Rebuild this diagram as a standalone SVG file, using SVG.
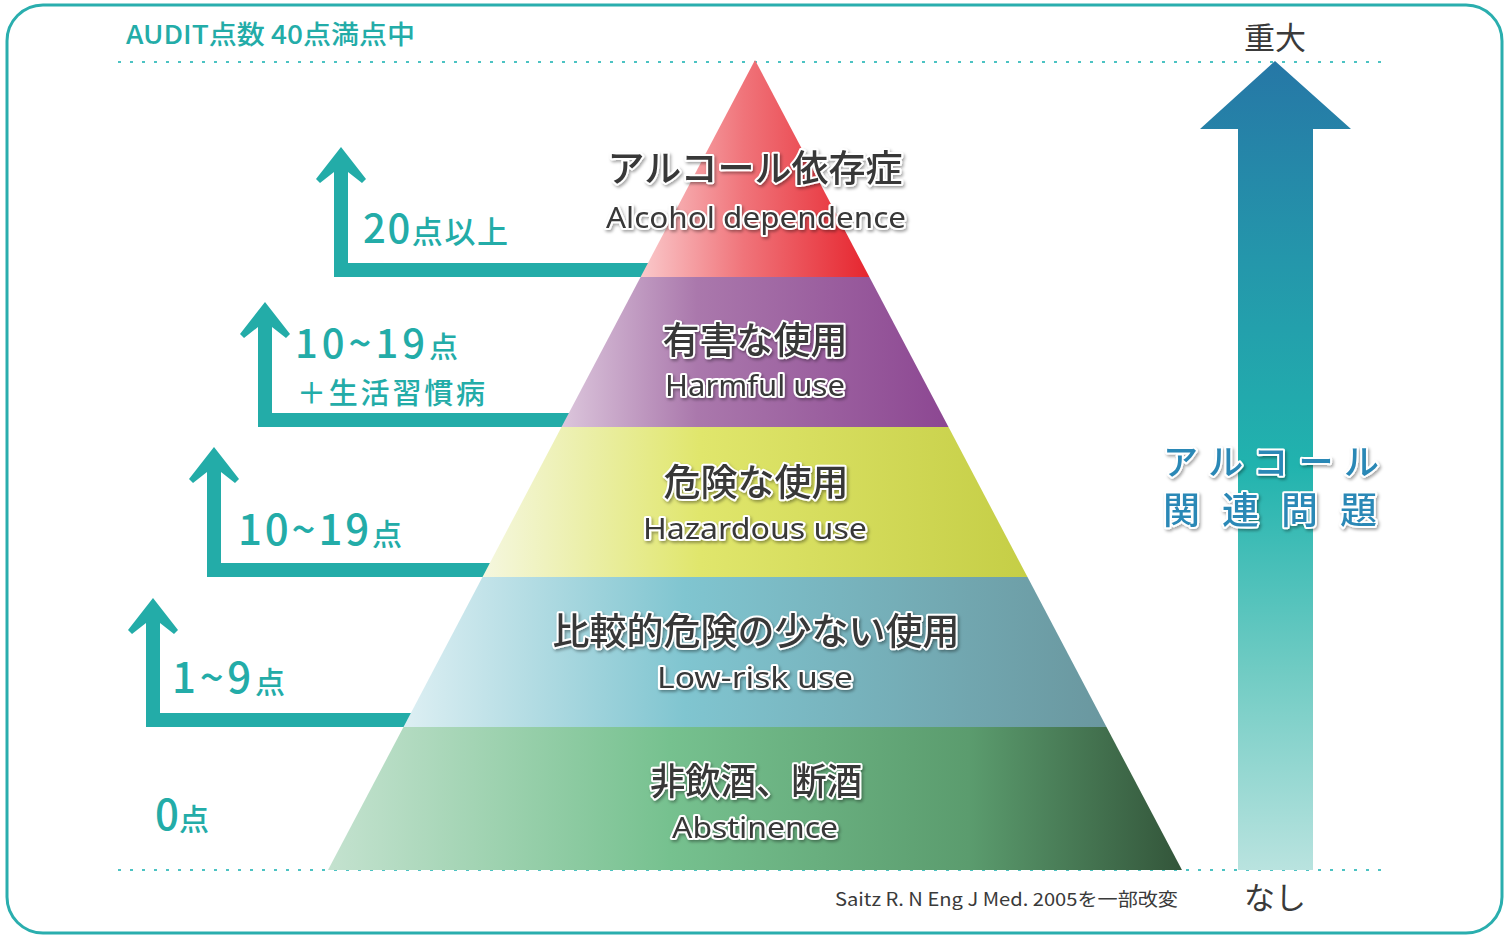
<svg xmlns="http://www.w3.org/2000/svg" width="1511" height="936" viewBox="0 0 1511 936">
<defs>
<style>
.teal{fill:#23aca8;font-family:"Noto Sans CJK JP","Noto Sans",sans-serif;font-weight:500}
.jp{fill:#383838;font-family:"Noto Sans CJK JP",sans-serif;font-weight:500;font-size:37px;text-anchor:middle;stroke:#fff;stroke-width:4;paint-order:stroke;stroke-linejoin:round;filter:url(#sh)}
.en{fill:#383838;font-family:"Noto Sans","Noto Sans CJK JP",sans-serif;font-size:29px;text-anchor:middle;stroke:#fff;stroke-width:4;paint-order:stroke;stroke-linejoin:round;filter:url(#sh)}
.blue{fill:#2b88b6;font-family:"Noto Sans CJK JP",sans-serif;font-weight:500;stroke:#fff;stroke-width:4;paint-order:stroke;stroke-linejoin:round;filter:url(#sh)}
.dark{fill:#3a3a3a;font-family:"Noto Sans CJK JP",sans-serif}
.dot{stroke:#4cc3c3;stroke-width:2;stroke-dasharray:3 9;fill:none}
.arrow{fill:#23aca8}
</style>
<filter id="sh" x="-10%" y="-30%" width="120%" height="160%">
<feDropShadow dx="1.5" dy="2" stdDeviation="1.8" flood-color="#000" flood-opacity="0.35"/>
</filter>
<linearGradient id="gRed" x1="0" y1="0" x2="1" y2="0">
<stop offset="0" stop-color="#fac9cb"/><stop offset="0.45" stop-color="#f0747a"/><stop offset="1" stop-color="#e6262f"/>
</linearGradient>
<linearGradient id="gPur" x1="0" y1="0" x2="1" y2="0">
<stop offset="0" stop-color="#dcc6dc"/><stop offset="0.35" stop-color="#aa78ac"/><stop offset="1" stop-color="#8c4792"/>
</linearGradient>
<linearGradient id="gYel" x1="0" y1="0" x2="1" y2="0">
<stop offset="0" stop-color="#f5f7df"/><stop offset="0.4" stop-color="#e0e66c"/><stop offset="1" stop-color="#c5ce46"/>
</linearGradient>
<linearGradient id="gBlu" x1="0" y1="0" x2="1" y2="0">
<stop offset="0" stop-color="#ddeff3"/><stop offset="0.4" stop-color="#80c5d0"/><stop offset="1" stop-color="#6a979f"/>
</linearGradient>
<linearGradient id="gGrn" x1="0" y1="0" x2="1" y2="0">
<stop offset="0" stop-color="#c4e2cf"/><stop offset="0.4" stop-color="#76c18f"/><stop offset="0.75" stop-color="#5b9c6e"/><stop offset="1" stop-color="#33553a"/>
</linearGradient>
<linearGradient id="gArr" gradientUnits="userSpaceOnUse" x1="0" y1="61" x2="0" y2="870">
<stop offset="0" stop-color="#2677a6"/><stop offset="0.25" stop-color="#2497ab"/><stop offset="0.5" stop-color="#21b3ae"/><stop offset="0.75" stop-color="#6fcbc3"/><stop offset="1" stop-color="#b9e3df"/>
</linearGradient>
</defs>

<rect x="7" y="5" width="1495" height="928" rx="36" ry="36" fill="#fff" stroke="#2aaeae" stroke-width="3"/>

<g id="guides">
<line class="dot" x1="118" y1="62" x2="1386" y2="62"/>
<line class="dot" x1="118" y1="870" x2="1386" y2="870"/>
</g>

<g id="connectors">
<polygon class="arrow" points="341,147 366,179 362,183 348,172 348,263 680,263 680,277 334,277 334,172 320,183 316,179"/>
<polygon class="arrow" points="265,302 290,334 286,338 272,327 272,413 600,413 600,427 258,427 258,327 244,338 240,334"/>
<polygon class="arrow" points="214,447 239,479 235,483 221,472 221,563 520,563 520,577 207,577 207,472 193,483 189,479"/>
<polygon class="arrow" points="153,598 178,630 174,634 160,623 160,713 440,713 440,727 146,727 146,623 132,634 128,630"/>
</g>

<g id="severity-arrow">
<polygon points="1275,61 1351,129 1313,129 1313,870 1238,870 1238,129 1200,129" fill="url(#gArr)"/>
</g>

<g id="level-dependence">
<polygon points="755,60 869.4,277 640.6,277" fill="url(#gRed)"/>
<text class="jp" x="755" y="182" font-size="36">アルコール依存症</text>
<text class="en" x="756" y="228" textLength="300" lengthAdjust="spacingAndGlyphs">Alcohol dependence</text>
</g>
<g id="level-harmful">
<polygon points="640.6,277 869.4,277 948.5,427 561.5,427" fill="url(#gPur)"/>
<text class="jp" x="755" y="354" font-size="38">有害な使用</text>
<text class="en" x="755" y="396" textLength="180" lengthAdjust="spacingAndGlyphs">Harmful use</text>
</g>
<g id="level-hazardous">
<polygon points="561.5,427 948.5,427 1027.5,577 482.5,577" fill="url(#gYel)"/>
<text class="jp" x="756" y="496" font-size="38">危険な使用</text>
<text class="en" x="755" y="539" textLength="224" lengthAdjust="spacingAndGlyphs">Hazardous use</text>
</g>
<g id="level-lowrisk">
<polygon points="482.5,577 1027.5,577 1106.5,727 403.5,727" fill="url(#gBlu)"/>
<text class="jp" x="756" y="645" font-size="38">比較的危険の少ない使用</text>
<text class="en" x="755" y="688" textLength="196" lengthAdjust="spacingAndGlyphs">Low-risk use</text>
</g>
<g id="level-abstinence">
<polygon points="403.5,727 1106.5,727 1182,870 328,870" fill="url(#gGrn)"/>
<text class="jp" x="756" y="795" font-size="37" textLength="212" lengthAdjust="spacingAndGlyphs">非飲酒、断酒</text>
<text class="en" x="755" y="838" textLength="166" lengthAdjust="spacingAndGlyphs">Abstinence</text>
</g>

<g id="label-20">
<text class="teal" x="363" y="243" textLength="145"><tspan font-size="40">20</tspan><tspan font-size="31">点以上</tspan></text>
</g>
<g id="label-10-19-plus">
<text class="teal" x="295" y="358" textLength="163"><tspan font-size="40">10~19</tspan><tspan font-size="29">点</tspan></text>
<text class="teal" x="297" y="404" font-size="29" textLength="188">＋生活習慣病</text>
</g>
<g id="label-10-19">
<text class="teal" x="238" y="545" textLength="164"><tspan font-size="42">10~19</tspan><tspan font-size="30">点</tspan></text>
</g>
<g id="label-1-9">
<text class="teal" x="172" y="693" textLength="113"><tspan font-size="42">1~9</tspan><tspan font-size="30">点</tspan></text>
</g>
<g id="label-0">
<text class="teal" x="155" y="830"><tspan font-size="42">0</tspan><tspan font-size="30">点</tspan></text>
</g>

<g id="title">
<text class="teal" x="126" y="44" font-size="26" textLength="289" lengthAdjust="spacingAndGlyphs">AUDIT点数 40点満点中</text>
</g>
<g id="label-severe">
<text class="dark" x="1275" y="49" font-size="31" text-anchor="middle">重大</text>
</g>
<g id="label-none">
<text class="dark" x="1275" y="909" font-size="31" text-anchor="middle">なし</text>
</g>
<g id="label-alcohol-problems">
<text class="blue" x="1163" y="475" font-size="35" letter-spacing="10.5">アルコール</text>
<text class="blue" x="1163" y="524" font-size="37" letter-spacing="22">関連問題</text>
</g>
<g id="citation">
<text class="dark" x="835" y="906" font-size="18" textLength="343" lengthAdjust="spacingAndGlyphs">Saitz R. N Eng J Med. 2005を一部改変</text>
</g>
</svg>
